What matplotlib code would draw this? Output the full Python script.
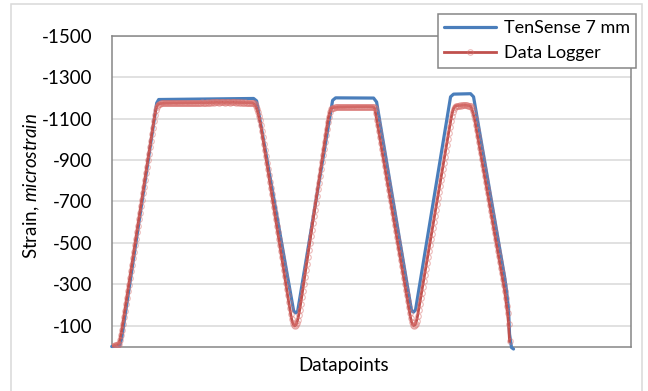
import matplotlib
matplotlib.use("Agg")
import matplotlib.pyplot as plt
from matplotlib.patches import Rectangle
import numpy as np

# data logger strain, one value per datapoint
logger = [
    0, -2, -4, -6, -8, -9, -10, -14, -30, -55,
    -80, -110, -142, -173, -205, -236, -268, -299, -331, -362,
    -394, -425, -457, -488, -520, -551, -583, -614, -646, -677,
    -709, -740, -772, -803, -835, -866, -898, -929, -961, -992,
    -1024, -1055, -1087, -1115, -1140, -1158, -1167, -1171,
    -1172, -1173, -1173, -1174, -1173, -1174, -1174, -1175, -1174, -1174,
    -1175, -1174, -1175, -1175, -1176, -1175, -1175, -1174, -1175, -1176,
    -1175, -1176, -1176, -1175, -1176, -1176, -1177, -1176, -1175, -1176,
    -1176, -1177, -1176, -1176, -1177, -1177, -1176, -1177, -1177, -1176,
    -1177, -1177, -1178, -1177, -1176, -1177, -1177, -1178, -1177, -1177,
    -1178, -1177, -1178, -1178, -1177, -1178, -1178, -1179, -1178, -1177,
    -1178, -1178, -1179, -1178, -1178, -1177, -1178, -1179, -1178, -1178,
    -1177, -1178, -1178, -1179, -1178, -1178, -1177, -1178, -1178, -1177,
    -1178, -1177, -1178, -1177, -1177, -1178, -1177, -1176, -1177, -1177,
    -1176, -1177, -1176, -1175, -1173,
    -1168, -1160, -1148, -1132, -1112, -1092, -1070, -1040, -1009, -979,
    -948, -918, -887, -857, -826, -796, -765, -735, -704, -674,
    -643, -613, -582, -552, -521, -491, -460, -430, -399, -369,
    -338, -308, -277, -247, -216, -186, -158, -132, -114, -104,
    -100, -103, -112,
    -128, -150, -175, -205, -237, -270, -302, -335, -368, -400,
    -433, -465, -498, -531, -563, -596, -628, -661, -694, -726,
    -759, -791, -824, -857, -889, -922, -954, -987, -1020, -1052,
    -1085, -1110, -1130, -1144, -1150, -1153,
    -1153, -1154, -1154, -1155, -1154, -1155, -1155, -1156, -1155, -1155,
    -1156, -1155, -1156, -1156, -1157, -1156, -1156, -1157, -1156, -1157,
    -1157, -1156, -1157, -1157, -1158, -1157, -1157, -1158, -1157, -1157,
    -1158, -1157, -1158, -1158, -1157, -1158, -1157, -1157, -1156, -1156,
    -1155,
    -1150, -1125, -1095, -1068, -1040, -1012, -983, -955, -927, -898,
    -870, -842, -813, -785, -757, -728, -700, -672, -643, -615,
    -587, -558, -530, -502, -473, -445, -417, -388, -360, -332,
    -303, -275, -247, -218, -190, -163, -138, -118, -106, -101,
    -103, -110,
    -125, -148, -175, -203, -232, -260, -289, -317, -346, -374,
    -403, -431, -460, -488, -517, -545, -574, -602, -631, -659,
    -688, -716, -745, -773, -802, -830, -859, -887, -916, -944,
    -973, -1001, -1030, -1058, -1087, -1112, -1133, -1148, -1157, -1161,
    -1162, -1163, -1163, -1164, -1163, -1164, -1164, -1165, -1164, -1164,
    -1164, -1163, -1163, -1162,
    -1160, -1150, -1135, -1117, -1098, -1070, -1043, -1015, -988, -960,
    -932, -905, -877, -850, -822, -794, -767, -739, -712, -684,
    -656, -629, -601, -574, -546, -518, -491, -463, -436, -408,
    -380, -353, -325, -298, -270, -235, -195, -160, -110, -25,
]

# TenSense 7 mm readings at the datapoints where its trace bends
tensense_x = [0, 8, 10, 45, 47, 142, 145, 182, 184, 186, 221, 224, 262,
              265, 300, 302, 304, 339, 342, 359, 362, 393, 395, 397, 398,
              400, 402]
tensense = [0, -2, -40, -1175, -1192, -1197, -1185, -172, -162, -170,
            -1188, -1200, -1199, -1180, -172, -166, -178, -1205, -1218,
            -1220, -1205, -338, -270, -180, -60, 5, 12]

yticks = list(range(-1500, 0, 200))

plt.rcParams["font.family"] = "Lato"
plt.rcParams["axes.unicode_minus"] = False
plt.rcParams["mathtext.fontset"] = "custom"
plt.rcParams["mathtext.rm"] = "Lato"
plt.rcParams["mathtext.it"] = "Lato:italic"

fig = plt.figure(figsize=(6.48, 3.91), dpi=100)
ax = fig.add_axes([0.1724, 0.1138, 0.8021, 0.7949])

logger_x = np.arange(len(logger))
ax.plot(tensense_x, tensense, color="#4a7ebb", lw=2.3,
        solid_joinstyle="round", solid_capstyle="round",
        label="TenSense 7 mm", zorder=3, clip_on=False)
ax.plot(logger_x, logger, color="#c0504d", lw=2.0,
        marker="o", markersize=4, markerfacecolor="none",
        markeredgecolor=(0.85, 0.45, 0.44, 0.5), markeredgewidth=0.8,
        label="Data Logger", zorder=4)

ax.set_xlim(0, 520)
ax.set_ylim(0, -1500)
ax.set_yticks(yticks)
ax.set_xticks([])
ax.tick_params(axis="y", length=0, pad=14, labelsize=13.5)
ax.grid(axis="y", color="#d9d9d9", lw=1.1)
ax.set_axisbelow(True)
for sp in ax.spines.values():
    sp.set_color("#868686")
    sp.set_linewidth(1.1)

ax.set_ylabel(r"Strain, $\mathit{microstrain}$", fontsize=13.5, va="center")
ax.yaxis.set_label_coords(-0.154, 0.516)
ax.set_xlabel("Datapoints", fontsize=13.5, va="center")
ax.xaxis.set_label_coords(0.446, -0.061)

leg = ax.legend(loc="upper right", bbox_to_anchor=(636 / 648, 1 - 14 / 391),
                bbox_transform=fig.transFigure, fancybox=False,
                edgecolor="#868686", framealpha=1, fontsize=13,
                handlelength=2.9, handletextpad=0.4, borderpad=0.35,
                labelspacing=0.5, borderaxespad=0)
leg.get_frame().set_linewidth(1.1)

fig.patches.append(Rectangle((11 / 648, -0.05), 631 / 648, 1.05 - 4 / 391,
                             transform=fig.transFigure, fill=False,
                             edgecolor="#d9d9d9", lw=1.1))

fig.savefig("out.png", dpi=100)
